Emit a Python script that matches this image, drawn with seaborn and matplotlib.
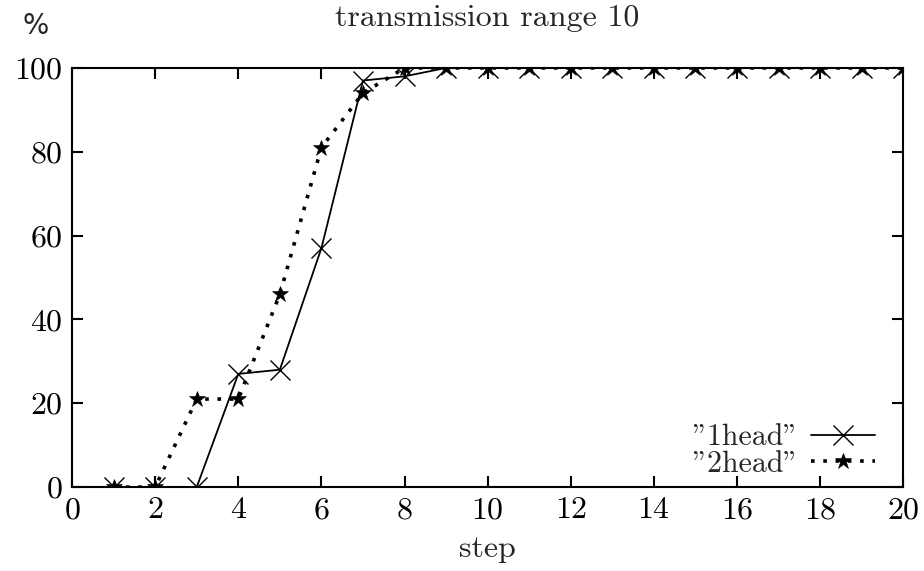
import matplotlib
matplotlib.use("Agg")
import matplotlib.pyplot as plt
import seaborn as sns
import pandas as pd

steps = list(range(1, 21))
one_head = [0, 0, 0, 27, 28, 57, 97, 98, 100, 100, 100, 100, 100, 100, 100, 100, 100, 100, 100, 100]
two_head = [0, 0, 21, 21, 46, 81, 94, 100, 100, 100, 100, 100, 100, 100, 100, 100, 100, 100, 100, 100]
series_labels = ['"1head"', '"2head"']
x_ticks = list(range(0, 21, 2))
y_ticks = list(range(0, 101, 20))

sns.set_style("ticks")
plt.rcParams["font.family"] = ["cmr10", "DejaVu Serif"]
plt.rcParams["axes.formatter.use_mathtext"] = True
plt.rcParams["axes.unicode_minus"] = False

df = pd.DataFrame({
    "step": steps * 2,
    "value": one_head + two_head,
    "series": [series_labels[0]] * len(steps) + [series_labels[1]] * len(steps),
})

FS = 23

fig = plt.figure(figsize=(9.24, 5.71), dpi=100)
ax = fig.add_axes([0.078, 0.147, 0.8995, 0.734])

sns.lineplot(data=df[df.series == series_labels[0]], x="step", y="value",
             color="black", linewidth=1.3, marker="x", markersize=14,
             markeredgewidth=1.0, markeredgecolor="black",
             label=series_labels[0], ax=ax)
sns.lineplot(data=df[df.series == series_labels[1]], x="step", y="value",
             color="black", linewidth=2.6, linestyle=(0, (1.0, 2.4)),
             marker="*", markersize=12, markeredgewidth=0.4,
             markeredgecolor="black", markerfacecolor="black",
             label=series_labels[1], ax=ax)

ax.set_xlim(0, 20)
ax.set_ylim(0, 100)
ax.set_xticks(x_ticks)
ax.set_yticks(y_ticks)
ax.tick_params(direction="in", length=8, width=1.5, top=True, right=True,
               labelsize=FS, colors="black")
ax.tick_params(axis="y", pad=7)
ax.tick_params(axis="x", pad=7)
for sp in ax.spines.values():
    sp.set_linewidth(1.5)
    sp.set_color("black")
    sp.set_visible(True)

ax.set_xlabel("step", fontsize=FS, labelpad=8)
ax.set_ylabel("")
ax.set_title("transmission range 10", fontsize=FS, pad=30)
fig.text(0.024, 0.955, "%", fontsize=20, family="DejaVu Sans", va="center")

leg = ax.legend(loc="lower right", bbox_to_anchor=(0.966, 0.022),
                frameon=False, fontsize=21.5, markerfirst=False,
                handlelength=2.15, handletextpad=0.4,
                labelspacing=-0.02, borderaxespad=0.0, borderpad=0.0)

fig.savefig("out.png", dpi=100)
